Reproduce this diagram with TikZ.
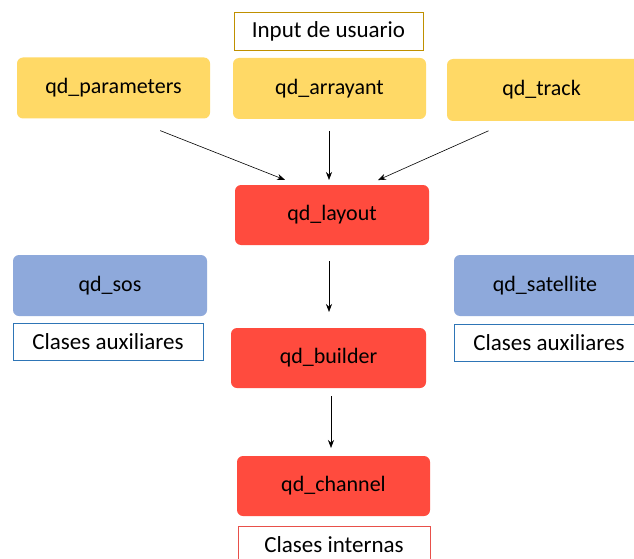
\documentclass[tikz,border=0pt]{standalone}
\usepackage{fontspec}
\setmainfont{Carlito}
\usetikzlibrary{arrows.meta}
\definecolor{yel}{HTML}{FFD966}
\definecolor{redb}{HTML}{FF4B3E}
\definecolor{blu}{HTML}{8EA9DB}
\definecolor{gold}{HTML}{BF9000}
\definecolor{auxb}{HTML}{2E75B6}
\definecolor{intb}{HTML}{E8504A}
\begin{document}
\begin{tikzpicture}[x=1pt,y=-1pt,
  every node/.style={inner sep=0pt, outer sep=0pt},
  box/.style={rounded corners=6pt, minimum width=193pt, minimum height=61pt, font=\fontsize{22}{26}\selectfont},
  ybox/.style={box, fill=yel},
  rbox/.style={box, fill=redb},
  bbox/.style={box, fill=blu},
  lbl/.style={draw, line width=0.8pt, fill=white, minimum height=38pt, font=\fontsize{23}{27}\selectfont},
  arr/.style={-{Stealth[length=8pt,width=6pt]}, line width=0.6pt, black}]
\clip (0,0) rectangle (634,559);
\fill[white] (0,0) rectangle (634,559);

\node[lbl, draw=gold, minimum width=189pt] (inp) at (328.5,31.5) {Input de usuario};
\node[ybox] (par) at (113.5,88) {qd\_parameters};
\node[ybox] (ara) at (329.5,88.5) {qd\_arrayant};
\node[ybox, minimum height=62pt] (trk) at (543.5,90) {\hspace*{-4pt}qd\_track};

\node[rbox, minimum width=194pt, minimum height=60pt] (lay) at (332,215) {qd\_layout};
\node[bbox, minimum width=194pt] (sos) at (110,285.5) {qd\_sos};
\node[lbl, draw=auxb, minimum width=190pt, minimum height=37pt] (auxl) at (108,341.5) {Clases auxiliares};
\node[bbox] (sat) at (550.5,285.5) {\hspace*{-11pt}qd\_satellite};
\node[lbl, draw=auxb, minimum width=190pt, minimum height=37pt] (auxr) at (549,342.5) {Clases auxiliares};

\node[rbox, minimum width=195pt, minimum height=60pt] (bld) at (328.5,358) {qd\_builder};
\node[rbox, minimum height=60pt] (chn) at (333.5,486) {qd\_channel};
\node[lbl, draw=intb, minimum width=192pt, minimum height=37pt] (int) at (334,544.5) {Clases internas};

\draw[arr, shorten <=33pt, shorten >=14pt] ([xshift=16pt]par.south) -- ([xshift=-34pt]lay.north);
\draw[arr, shorten <=12pt, shorten >=5pt] ([xshift=-0.5pt]ara.south) -- ([xshift=-3pt]lay.north);
\draw[arr, shorten <=24pt, shorten >=12pt] ([xshift=-33pt]trk.south) -- ([xshift=35pt]lay.north);
\draw[arr, shorten <=16pt, shorten >=16pt] ([xshift=-3pt]lay.south) -- ([xshift=0.5pt]bld.north);
\draw[arr, shorten <=8pt, shorten >=8pt] ([xshift=2.5pt]bld.south) -- ([xshift=-2.5pt]chn.north);
\end{tikzpicture}
\end{document}
